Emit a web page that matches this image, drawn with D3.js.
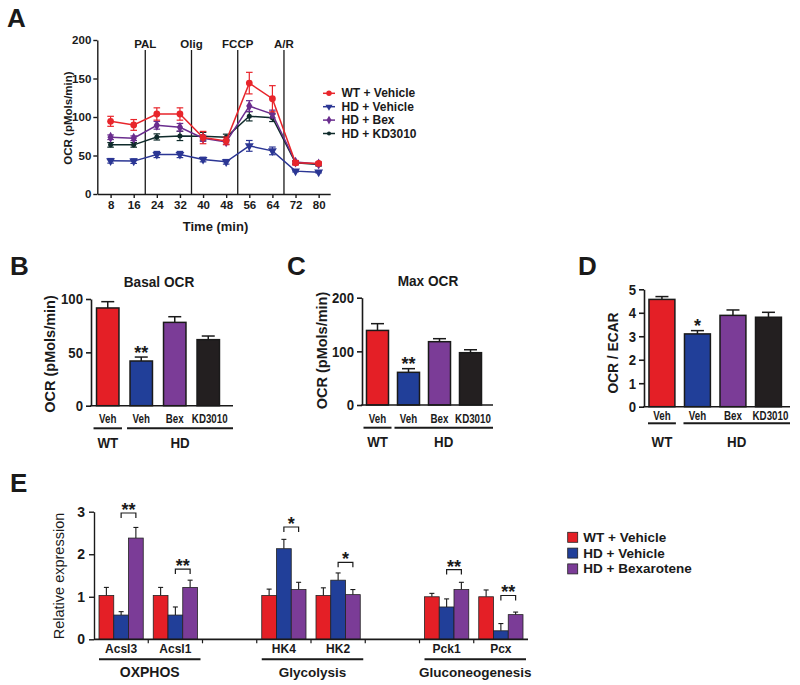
<!DOCTYPE html>
<html><head><meta charset="utf-8">
<script src="https://cdn.jsdelivr.net/npm/d3@7"></script>
<style>
body{margin:0;background:#fff}
svg{display:block;font-family:"Liberation Sans",Arial,Helvetica,sans-serif}
</style>
</head><body><script>
// ---------------- Panel A data ----------------
const timeMin = [8,16,24,32,40,48,56,64,72,80];
const injectionTimes = [20,36,52,68];
const injectionLabels = ["PAL","Olig","FCCP","A/R"];
const seriesA = ["WT + Vehicle","HD + Vehicle","HD + Bex","HD + KD3010"];
const ocrWT  = [94.4,89.7,103.9,103.9,73.3,69.0,144.0,123.7,40.5,39.7];
const ocrHD  = [43.1,42.7,51.3,51.3,44.8,41.8,62.5,56.0,29.7,28.4];
const ocrBex = [73.7,72.4,89.2,86.6,72.4,67.7,114.2,103.9,41.4,39.0];
const ocrKD  = [63.8,63.8,74.1,75.4,75.0,73.7,100.9,99.1,40.5,38.4];
const semWT  = [6.5,7,8,8,8,5,14,17,3,2];
const semHD  = [3,3,4,4,3,3,7,5,1,1];
const semBex = [3,3,5,5,4,3,7,5,2,2];
const semKD  = [3,3,4,6,5,4,6,5,2,2];
const yTicksA = [0,50,100,150,200];

// ---------------- Panels B-D data ----------------
const barCats = ["Veh","Veh","Bex","KD3010"];
const barGroups = ["WT","HD"];
const basalOCR = [91.6,41.9,78.1,61.9];
const basalSEM = [5.9,3.7,5.3,3.4];
const maxOCR = [139,60.9,118,97.5];
const maxSEM = [12.6,6.8,5.6,5.5];
const ocrEcar = [4.57,3.10,3.89,3.81];
const ocrEcarSEM = [0.12,0.14,0.23,0.21];
const yTicksB = [0,50,100];
const yTicksC = [0,100,200];
const yTicksD = [0,1,2,3,4,5];
const starsB = ["","**","",""];
const starsC = ["","**","",""];
const starsD = ["","*","",""];

// ---------------- Panel E data ----------------
const genes = ["Acsl3","Acsl1","HK4","HK2","Pck1","Pcx"];
const seriesE = ["WT + Vehicle","HD + Vehicle","HD + Bexarotene"];
const exprWT  = [1.03,1.03,1.03,1.03,1.00,1.00];
const exprHD  = [0.57,0.57,2.13,1.39,0.76,0.20];
const exprBex = [2.38,1.22,1.17,1.05,1.17,0.58];
const eSemWT  = [0.19,0.19,0.15,0.18,0.08,0.16];
const eSemHD  = [0.08,0.19,0.22,0.17,0.19,0.17];
const eSemBex = [0.25,0.17,0.17,0.12,0.17,0.06];
const pathwayNames = ["OXPHOS","Glycolysis","Gluconeogenesis"];
const pathwayGenes = [["Acsl3","Acsl1"],["HK4","HK2"],["Pck1","Pcx"]];
const sigStars = ["**","**","*","*","**","**"];
const sigLevel = [2.97,1.65,2.64,1.81,1.64,1.03];
const yTicksE = [0,1,2,3];

// ---------------- styling ----------------
const colA = ["#e8252b","#2b3694","#6a2d8e","#0f2b2b"];
const barColors = ["#e41f26","#213f99","#7b3c97","#231f20"];
const colE = ["#e41f26","#213f99","#7b3c97"];
const ink = "#1a1a1a";
const FONT = '"Liberation Sans",Arial,sans-serif';

const svg = d3.select("body").append("svg").attr("width",800).attr("height",685);
svg.append("rect").attr("width",800).attr("height",685).attr("fill","#fff");

function condense(sel, f){
  sel.each(function(){
    const L = this.getComputedTextLength();
    d3.select(this).attr("textLength",L*f).attr("lengthAdjust","spacingAndGlyphs");
  });
  return sel;
}
function txt(g,x,y,t,fs,opts={}){
  const s = g.append("text").attr("x",x).attr("y",y).text(t)
    .style("font-size",fs+"px").style("font-weight",opts.normal?"normal":"bold")
    .style("font-family",FONT).attr("fill",ink)
    .attr("text-anchor",opts.anchor||"middle");
  if(opts.central) s.attr("dominant-baseline","central");
  if(opts.rot) s.attr("transform",`rotate(-90,${x},${y})`);
  if(opts.cond) condense(s,opts.cond);
  return s;
}
function panelLetter(t,x,y){ txt(svg,x,y,t,26,{anchor:"start"}); }
function styleAxis(g, fs, cond){
  g.selectAll("path").attr("stroke",ink).attr("stroke-width",1.4);
  g.selectAll("line").attr("stroke",ink).attr("stroke-width",1.4);
  const t = g.selectAll("text").style("font-size",fs+"px").style("font-weight","bold")
    .attr("fill",ink).style("font-family",FONT);
  if(cond) condense(t,cond);
}

// ================= Panel A =================
panelLetter("A",7,27);
const xA = d3.scaleLinear().domain([3.4,84]).range([97.3,330.2]);
const yA = d3.scaleLinear().domain([0,200]).range([194,40]);
const gA = svg.append("g");
const axA = gA.append("g").attr("transform",`translate(${xA.range()[0]},0)`)
  .call(d3.axisLeft(yA).tickValues(yTicksA).tickFormat(d3.format("d")).tickSize(4).tickSizeOuter(0).tickPadding(2));
styleAxis(axA,11.5);
const axAx = gA.append("g").attr("transform",`translate(0,${yA(0)})`)
  .call(d3.axisBottom(xA).tickValues(timeMin).tickFormat(d3.format("d")).tickSize(4).tickSizeOuter(0).tickPadding(3));
styleAxis(axAx,11.5);
txt(gA,215.5,231,"Time (min)",13);
txt(gA,68,(yA(0)+yA(200))/2+1,"OCR (pMols/min)",11.5,{central:true,rot:true});
injectionTimes.forEach((t,i)=>{
  gA.append("line").attr("x1",xA(t)).attr("x2",xA(t)).attr("y1",50).attr("y2",yA(0))
    .attr("stroke",ink).attr("stroke-width",1.3);
  txt(gA,xA(t),47.5,injectionLabels[i],11.5);
});
const valsA = [ocrWT,ocrHD,ocrBex,ocrKD];
const semsA = [semWT,semHD,semBex,semKD];
const sym = [
  d3.symbol().type(d3.symbolCircle).size(36),
  d3.symbol().type(d3.symbolTriangle).size(34),
  d3.symbol().type(d3.symbolDiamond).size(34),
  d3.symbol().type(d3.symbolCircle).size(20)
];
const lineGen = d3.line().x(d=>xA(d[0])).y(d=>yA(d[1]));
[1,3,2,0].forEach(si=>{
  const pts = timeMin.map((t,i)=>[t,valsA[si][i],semsA[si][i]]);
  const g = gA.append("g");
  g.append("path").attr("d",lineGen(pts)).attr("fill","none").attr("stroke",colA[si]).attr("stroke-width",1.5);
  pts.forEach(p=>{
    const x = xA(p[0]), y1 = yA(p[1]-p[2]), y2 = yA(p[1]+p[2]);
    g.append("line").attr("x1",x).attr("x2",x).attr("y1",y1).attr("y2",y2).attr("stroke",colA[si]).attr("stroke-width",1.2);
    g.append("line").attr("x1",x-3.3).attr("x2",x+3.3).attr("y1",y1).attr("y2",y1).attr("stroke",colA[si]).attr("stroke-width",1.2);
    g.append("line").attr("x1",x-3.3).attr("x2",x+3.3).attr("y1",y2).attr("y2",y2).attr("stroke",colA[si]).attr("stroke-width",1.2);
    g.append("path").attr("d",sym[si]()).attr("fill",colA[si])
      .attr("transform",`translate(${x},${yA(p[1])})${si===1?" rotate(180)":""}`);
  });
});
seriesA.forEach((s,i)=>{
  const y = 93.3 + i*13.4;
  gA.append("line").attr("x1",323).attr("x2",335).attr("y1",y).attr("y2",y).attr("stroke",colA[i]).attr("stroke-width",1.5);
  gA.append("path").attr("d",sym[i]()).attr("fill",colA[i])
    .attr("transform",`translate(329,${y})${i===1?" rotate(180)":""} scale(0.8)`);
  txt(gA,341.5,y,s,12,{anchor:"start",central:true});
});

// ================= Panels B, C, D =================
function barPanel(p){
  const g = svg.append("g");
  const x = d3.scaleBand().domain(d3.range(p.values.length)).range(p.xRange)
    .paddingInner(p.padIn).paddingOuter(p.padOut);
  const y = d3.scaleLinear().domain(p.yDomain).range(p.yRange);
  p.values.forEach((v,i)=>{
    const cx = x(i)+x.bandwidth()/2, yt = y(v+p.sems[i]);
    g.append("line").attr("x1",cx).attr("x2",cx).attr("y1",y(v)).attr("y2",yt).attr("stroke",ink).attr("stroke-width",1.5);
    g.append("line").attr("x1",cx-6.5).attr("x2",cx+6.5).attr("y1",yt).attr("y2",yt).attr("stroke",ink).attr("stroke-width",1.5);
    if(p.stars[i]) txt(g,cx,yt+p.starDy,p.stars[i],18);
  });
  g.selectAll("rect.bar").data(p.values).join("rect").attr("class","bar")
    .attr("x",(d,i)=>x(i)).attr("y",d=>y(d)).attr("width",x.bandwidth())
    .attr("height",d=>y(p.yDomain[0])-y(d)).attr("fill",(d,i)=>barColors[i])
    .attr("stroke",ink).attr("stroke-width",1.5);
  const ax = g.append("g").attr("transform",`translate(${p.xRange[0]},0)`)
    .call(d3.axisLeft(y).tickValues(p.ticks).tickFormat(d3.format("d")).tickSize(5).tickSizeOuter(0).tickPadding(3));
  styleAxis(ax,15.5,0.85);
  ax.selectAll("path, line").attr("stroke-width",1.6);
  g.append("line").attr("x1",p.xRange[0]-0.8).attr("x2",p.axisEnd).attr("y1",y(0)).attr("y2",y(0))
    .attr("stroke",ink).attr("stroke-width",1.6);
  barCats.forEach((c,i)=>{
    const last = i===barCats.length-1;
    txt(g,x(i)+x.bandwidth()/2+(last?p.lastShift:0),p.catY,c,12.5,{cond:0.78});
  });
  const spans = [[0,0],[1,barCats.length-1]];
  spans.forEach((s,gi)=>{
    const xs = x(s[0]) - p.grpPad, xe = (gi===0 ? x(s[1])+x.bandwidth()+p.grpPad : p.axisEnd);
    g.append("line").attr("x1",xs).attr("x2",xe).attr("y1",p.grpLineY).attr("y2",p.grpLineY)
      .attr("stroke",ink).attr("stroke-width",2);
    txt(g,(xs+xe)/2,p.grpY,barGroups[gi],14.5,{cond:0.92});
  });
  if(p.title) txt(g,p.titleX,p.titleY,p.title,15.5,{cond:0.88});
  txt(g,p.ylabX,p.ylabY,p.ylabel,14.5,{central:true,rot:true,cond:p.ylabCond||1});
}

panelLetter("B",10,275);
barPanel({values:basalOCR,sems:basalSEM,stars:starsB,starDy:2,xRange:[91,225],padIn:0.33,padOut:0.165,axisEnd:233,
  yDomain:[0,100],yRange:[405.7,299],ticks:yTicksB,catY:423,grpLineY:428.3,grpY:448,grpPad:3,lastShift:1.5,
  title:"Basal OCR",titleX:159,titleY:286.5,ylabel:"OCR (pMols/min)",ylabX:50,ylabY:354});
panelLetter("C",287,275);
barPanel({values:maxOCR,sems:maxSEM,stars:starsC,starDy:1,xRange:[362,486],padIn:0.29,padOut:0.145,axisEnd:493,
  yDomain:[0,200],yRange:[405,297.7],ticks:yTicksC,catY:422.7,grpLineY:427.7,grpY:447.3,grpPad:3,lastShift:2.5,
  title:"Max OCR",titleX:428,titleY:285.7,ylabel:"OCR (pMols/min)",ylabX:321.7,ylabY:350.5});
panelLetter("D",578,275);
barPanel({values:ocrEcar,sems:ocrEcarSEM,stars:starsD,starDy:1,xRange:[644,786.4],padIn:0.27,padOut:0.14,axisEnd:790,
  yDomain:[0,5],yRange:[406.7,289.3],ticks:yTicksD,catY:420,grpLineY:423.3,grpY:447.3,grpPad:1,lastShift:2,
  title:"",ylabel:"OCR / ECAR",ylabX:613,ylabY:353,ylabCond:0.95});

// ================= Panel E =================
panelLetter("E",10,492);
const slots = [];
pathwayGenes.forEach((gs,pi)=>{ gs.forEach(g=>slots.push(g)); if(pi<pathwayGenes.length-1) slots.push("gap"+pi); });
const xE = d3.scaleBand().domain(slots).range([94,528]);
const subE = d3.scaleBand().domain(seriesE).range([5,xE.bandwidth()-5]);
const yE = d3.scaleLinear().domain([0,3]).range([639.3,511.7]);
const gE = svg.append("g");
const valsE = [exprWT,exprHD,exprBex];
const semsE = [eSemWT,eSemHD,eSemBex];
genes.forEach((gname,gi)=>{
  seriesE.forEach((s,si)=>{
    const x0 = xE(gname)+subE(s), w = subE.bandwidth(), v = valsE[si][gi], e = semsE[si][gi];
    const cx = x0+w/2, yt = yE(v+e);
    gE.append("line").attr("x1",cx).attr("x2",cx).attr("y1",yE(v)).attr("y2",yt).attr("stroke",ink).attr("stroke-width",1.1);
    gE.append("line").attr("x1",cx-2.5).attr("x2",cx+2.5).attr("y1",yt).attr("y2",yt).attr("stroke",ink).attr("stroke-width",1.1);
    gE.append("rect").attr("x",x0).attr("y",yE(v)).attr("width",w).attr("height",yE(0)-yE(v))
      .attr("fill",colE[si]).attr("stroke","#222").attr("stroke-width",0.8);
  });
  const xa = xE(gname)+subE(seriesE[1])+subE.bandwidth()/2;
  const xb = xE(gname)+subE(seriesE[2])+subE.bandwidth()/2;
  const yb = yE(sigLevel[gi]);
  gE.append("path").attr("d",`M${xa},${yb+5}V${yb}H${xb}V${yb+5}`).attr("fill","none").attr("stroke",ink).attr("stroke-width",1.2);
  txt(gE,(xa+xb)/2,yb+3,sigStars[gi],18);
  txt(gE,xE(gname)+xE.bandwidth()/2,653,gname,12);
});
const axE = gE.append("g").attr("transform",`translate(${xE.range()[0]},0)`)
  .call(d3.axisLeft(yE).tickValues(yTicksE).tickFormat(d3.format("d")).tickSize(5).tickSizeOuter(0).tickPadding(4));
styleAxis(axE,14);
gE.append("line").attr("x1",xE.range()[0]).attr("x2",xE.range()[1]).attr("y1",yE(0)).attr("y2",yE(0))
  .attr("stroke",ink).attr("stroke-width",1.8);
slots.slice(1).forEach(s=>{
  gE.append("line").attr("x1",xE(s)).attr("x2",xE(s)).attr("y1",yE(0)).attr("y2",yE(0)+4).attr("stroke",ink).attr("stroke-width",1.2);
});
txt(gE,59,576,"Relative expression",14.5,{central:true,rot:true,normal:true});
pathwayNames.forEach((pn,pi)=>{
  const gs = pathwayGenes[pi];
  const xs = xE(gs[0])+5, xe = xE(gs[gs.length-1])+xE.bandwidth()-2;
  gE.append("line").attr("x1",xs).attr("x2",xe).attr("y1",659.3).attr("y2",659.3).attr("stroke",ink).attr("stroke-width",2);
  txt(gE,(xs+xe)/2,676.5,pn,pi===0?14:13.5);
});
seriesE.forEach((s,i)=>{
  const y = 537.3 + i*15.8;
  gE.append("rect").attr("x",567.7).attr("y",y-5).attr("width",10).attr("height",10)
    .attr("fill",colE[i]).attr("stroke","#222").attr("stroke-width",0.8);
  txt(gE,583.3,y,s,13.5,{anchor:"start",central:true});
});
</script></body></html>
